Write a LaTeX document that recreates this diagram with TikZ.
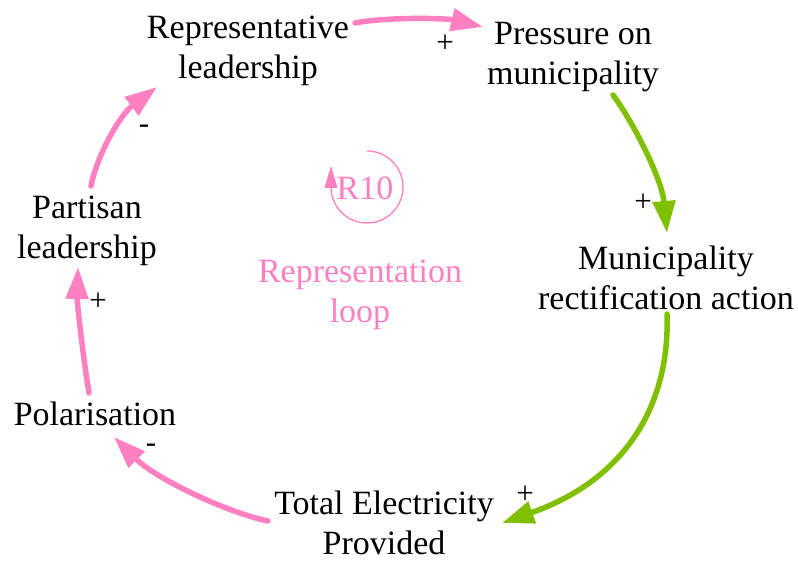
\documentclass[tikz,border=0pt]{standalone}
\usepackage{fontspec}
\setmainfont{Liberation Serif}
\usetikzlibrary{arrows.meta}
\definecolor{lpink}{RGB}{255,128,192}
\definecolor{lgreen}{RGB}{128,192,0}
\begin{document}
\begin{tikzpicture}[x=1pt,y=1pt,
  var/.style={inner sep=0pt, align=center, font=\fontsize{34}{40}\selectfont},
  sign/.style={inner sep=0pt, font=\fontsize{31}{34}\selectfont},
  link/.style={line width=5.5pt, line cap=round, -{Triangle[length=32pt,width=22pt]}},
  plink/.style={link, color=lpink},
  glink/.style={link, color=lgreen}]
\path[use as bounding box] (0,0) rectangle (798,-561);
\node[var] (rep) at (248,-51) {Representative\\leadership};
\node[var] (press) at (573,-57) {Pressure on\\municipality};
\node[var] (mun) at (666,-278) {Municipality\\rectification action};
\node[var] (tot) at (384,-523) {Total Electricity\\Provided};
\node[var] (pol) at (95,-414) {Polarisation};
\node[var] (par) at (87,-231) {Partisan\\leadership};
\node[var, text=lpink] (r10) at (365,-188) {R10};
\node[var, text=lpink] (loop) at (360,-295) {Representation\\loop};
% connectors
\draw[plink] ([shift={(107,28)}]rep.center) .. controls (385,-17) and (445,-18) .. ([shift={(-90,30)}]press.center);
\draw[glink] ([shift={(40,-38)}]press.center) .. controls (635,-125) and (662,-180) .. ([shift={(1,45)}]mun.center);
\draw[glink] ([shift={(1,-36)}]mun.center) .. controls (670,-400) and (630,-478) .. ([shift={(118,0)}]tot.center);
\draw[plink] ([shift={(-116,2)}]tot.center) .. controls (225,-512) and (155,-478) .. ([shift={(19,-23)}]pol.center);
\draw[plink] ([shift={(-6,21)}]pol.center) .. controls (82,-350) and (77,-300) .. ([shift={(-9,-36)}]par.center);
\draw[plink] ([shift={(4,45)}]par.center) .. controls (97,-155) and (120,-115) .. ([shift={(-91,-36)}]rep.center);
% loop marker
\coordinate (lc) at (367,-187);
\draw[lpink, line width=1.3pt, -{Triangle[length=22pt,width=13pt]}] ([shift={(0,36)}]lc) arc[start angle=90, end angle=-180, radius=36] -- ++(0,21);
% signs
\node[sign] (s1) at (445,-44) {+};
\node[sign] (s2) at (643,-203) {+};
\node[sign] (s3) at (525,-495) {+};
\node[sign] (s4) at (151,-448) {-};
\node[sign] (s5) at (98,-302) {+};
\node[sign] (s6) at (144,-129) {-};
\end{tikzpicture}
\end{document}
